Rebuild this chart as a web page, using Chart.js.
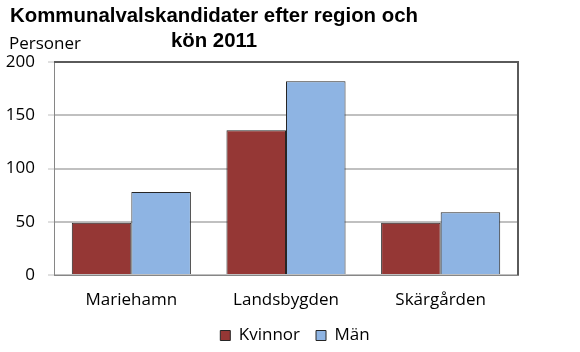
<!DOCTYPE html>
<html>
<head>
<meta charset="utf-8">
<script src="https://cdn.jsdelivr.net/npm/chart.js@4/dist/chart.umd.min.js"></script>
<style>
html,body{margin:0;padding:0;background:#fff;}
#wrap{position:relative;width:580px;height:352px;}
</style>
</head>
<body>
<div id="wrap"><canvas id="c" width="580" height="352"></canvas></div>
<script>
const categories = ['Mariehamn', 'Landsbygden', 'Skärgården'];
const seriesNames = ['Kvinnor', 'Män'];
const kvinnor = [49, 136, 49];
const man = [78, 182, 59];
const yTicks = [0, 50, 100, 150, 200];
const titleLines = ['Kommunalvalskandidater efter region och', 'kön 2011'];
const yAxisTitle = 'Personer';

const FONT = '"Open Sans", "Noto Sans", sans-serif';

const textPlugin = {
  id: 'texts',
  afterLayout(chart) {
    const L = chart.legend;
    if (L) { L.left += 5; L.right += 5; L.top += 2; L.bottom += 2; }
  },
  afterDraw(chart) {
    const ctx = chart.ctx;
    const ca = chart.chartArea;
    const l = Math.round(ca.left), r = Math.round(ca.right), t = Math.round(ca.top), b = Math.round(ca.bottom);
    ctx.save();
    ctx.strokeStyle = '#5a5a5a';
    ctx.lineWidth = 2;
    ctx.beginPath();
    ctx.moveTo(l, t);
    ctx.lineTo(r, t);
    ctx.lineTo(r, b);
    ctx.stroke();
    ctx.fillStyle = '#000';
    ctx.font = 'bold 20.4px "Liberation Sans", Arial, sans-serif';
    ctx.textAlign = 'center';
    ctx.textBaseline = 'alphabetic';
    ctx.fillText(titleLines[0], 214, 22);
    ctx.fillText(titleLines[1], 214, 47);
    ctx.font = '17px ' + FONT;
    ctx.textAlign = 'left';
    ctx.fillText(yAxisTitle, 9, 49);
    ctx.restore();
  }
};

new Chart(document.getElementById('c'), {
  type: 'bar',
  data: {
    labels: categories,
    datasets: [
      { label: seriesNames[0], data: kvinnor, backgroundColor: '#953735', borderColor: '#262626', borderWidth: 1 },
      { label: seriesNames[1], data: man, backgroundColor: '#8eb4e3', borderColor: '#262626', borderWidth: 1 }
    ]
  },
  options: {
    responsive: false,
    animation: false,
    layout: { padding: { left: 0, top: 62, right: 0, bottom: 0 } },
    datasets: { bar: { categoryPercentage: 0.77, barPercentage: 1.0 } },
    scales: {
      x: {
        grid: { display: false, drawTicks: false },
        border: { display: true, color: '#868686', width: 1 },
        ticks: { color: '#000', font: { family: FONT, size: 17 }, padding: 15 },
        afterFit(s) { s.height = 34; }
      },
      y: {
        min: 0, max: 200,
        afterBuildTicks(s) { s.ticks = yTicks.map(v => ({ value: v })); },
        grid: { color: '#c0c0c0', lineWidth: 2, tickLength: 6, tickWidth: 1 },
        border: { display: true, color: '#868686', width: 1 },
        ticks: { color: '#000', font: { family: FONT, size: 17 }, padding: 13 },
        afterFit(s) { s.width = 54; }
      },
      yRight: {
        position: 'right',
        display: true,
        grid: { display: false, drawTicks: false },
        border: { display: false },
        ticks: { display: false },
        afterFit(s) { s.width = 62; }
      }
    },
    plugins: {
      legend: {
        position: 'bottom',
        labels: {
          color: '#000',
          font: { family: FONT, size: 17 },
          boxWidth: 10, boxHeight: 10, padding: 16,
          useBorderRadius: false
        }
      },
      tooltip: { enabled: false },
      title: { display: false }
    }
  },
  plugins: [textPlugin]
});
</script>
</body>
</html>
